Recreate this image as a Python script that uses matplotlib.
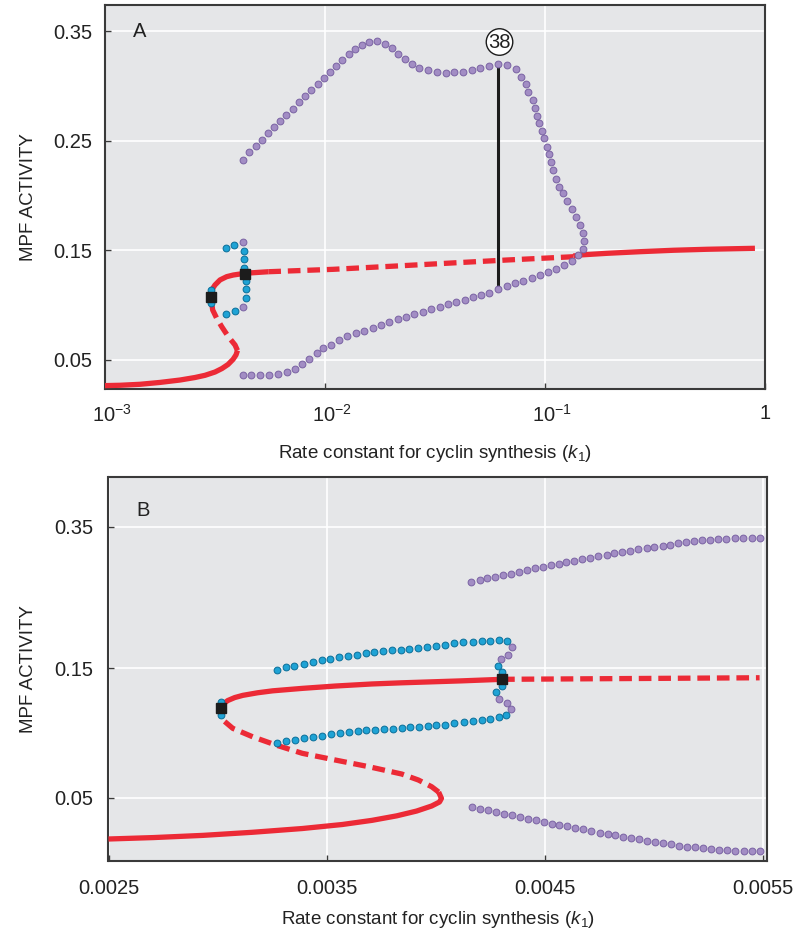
import numpy as np
import matplotlib.pyplot as plt
import matplotlib.transforms as mtransforms
from matplotlib.ticker import NullLocator

plt.rcParams['font.family'] = ['Liberation Sans', 'DejaVu Sans']
plt.rcParams['mathtext.fontset'] = 'custom'
plt.rcParams['mathtext.rm'] = 'Liberation Sans'
plt.rcParams['mathtext.it'] = 'Liberation Sans:italic'

# ---------------- panel A data (log k1) ----------------
a_red_low_k = [1.0e-3, 1.170e-3, 1.443e-3, 1.778e-3, 2.193e-3, 2.566e-3, 2.848e-3, 3.162e-3, 3.402e-3,
               3.624e-3, 3.818e-3, 3.939e-3, 4.001e-3]
a_red_low_y = [0.0266, 0.0269, 0.0278, 0.0295, 0.0317, 0.0340, 0.0360, 0.0390, 0.0422,
               0.0459, 0.0505, 0.0546, 0.0587]
a_red_mid_k = [4.001e-3, 3.90e-3, 3.635e-3, 3.393e-3, 3.219e-3, 3.086e-3, 3.03e-3]
a_red_mid_y = [0.0587, 0.0637, 0.0713, 0.0804, 0.0881, 0.0957, 0.1078]
a_red_up_k = [3.03e-3, 3.055e-3, 3.162e-3, 3.333e-3, 3.574e-3, 3.830e-3, 4.33e-3, 5.525e-3]
a_red_up_y = [0.1078, 0.1139, 0.1185, 0.1231, 0.1261, 0.1276, 0.1292, 0.1306]
a_red_hi_k = [5.525e-3, 1.09e-2, 2.19e-2, 4.11e-2, 6.70e-2, 0.1345]
a_red_hi_y = [0.1306, 0.1328, 0.1360, 0.1390, 0.1413, 0.1443]
a_red_top_k = [0.1345, 0.1442, 0.1908, 0.2703, 0.383, 0.543, 0.90]
a_red_top_y = [0.1449, 0.1459, 0.1474, 0.1489, 0.1502, 0.1511, 0.1520]

a_purple_k = [4.25e-3, 4.53e-3, 4.84e-3, 5.16e-3, 5.51e-3, 5.86e-3, 6.26e-3, 6.67e-3, 7.13e-3, 7.59e-3,
              8.09e-3, 8.64e-3, 9.26e-3, 9.90e-3, 1.057e-2, 1.126e-2, 1.198e-2, 1.282e-2, 1.369e-2, 1.473e-2,
              1.590e-2, 1.718e-2, 1.868e-2, 2.010e-2, 2.154e-2, 2.310e-2, 2.478e-2, 2.683e-2, 2.930e-2, 3.219e-2,
              3.548e-2, 3.870e-2, 4.250e-2, 4.640e-2, 5.060e-2, 5.560e-2, 6.110e-2, 6.720e-2, 7.360e-2, 7.780e-2,
              8.170e-2, 8.400e-2, 8.790e-2, 8.980e-2, 9.170e-2, 9.420e-2, 9.690e-2, 9.930e-2, 0.1021, 0.1039,
              0.1065, 0.1091, 0.1122, 0.1154, 0.1207, 0.1263, 0.1327, 0.1383, 0.1447, 0.1484,
              0.1504, 0.1484, 0.1413,
              0.1323, 0.1220, 0.1126, 0.1035, 9.52e-2, 8.70e-2, 7.97e-2, 7.33e-2, 6.70e-2, 6.13e-2,
              5.58e-2, 5.12e-2, 4.71e-2, 4.32e-2, 3.95e-2, 3.64e-2, 3.315e-2, 3.033e-2, 2.78e-2, 2.547e-2,
              2.334e-2, 2.14e-2, 1.96e-2, 1.797e-2, 1.648e-2, 1.509e-2, 1.383e-2, 1.263e-2, 1.158e-2, 1.065e-2,
              9.82e-3, 9.17e-3, 8.49e-3, 7.88e-3, 7.31e-3, 6.70e-3, 6.13e-3, 5.58e-3, 5.06e-3, 4.62e-3, 4.23e-3]
a_purple_y = [0.233, 0.240, 0.245, 0.251, 0.257, 0.2625, 0.2685, 0.274, 0.2795, 0.2853,
              0.2908, 0.2963, 0.302, 0.3075, 0.313, 0.3185, 0.324, 0.3292, 0.3337, 0.3377,
              0.3407, 0.3413, 0.3386, 0.3347, 0.3295, 0.3249, 0.3206, 0.3167, 0.3146, 0.3127,
              0.3124, 0.313, 0.3133, 0.3148, 0.3169, 0.3185, 0.3203, 0.3194, 0.3155, 0.3087,
              0.302, 0.295, 0.2874, 0.2804, 0.2731, 0.2662, 0.2594, 0.2525, 0.2448, 0.2381,
              0.2305, 0.2232, 0.2156, 0.2083, 0.2022, 0.1952, 0.1879, 0.1809, 0.1736, 0.1663,
              0.159, 0.1516, 0.1456,
              0.1404, 0.137, 0.1331, 0.1304, 0.1276, 0.1249, 0.1221, 0.12, 0.1176, 0.1148,
              0.1115, 0.1094, 0.1075, 0.1048, 0.1027, 0.1007, 0.0987, 0.0963, 0.0938, 0.0917,
              0.0893, 0.0872, 0.0844, 0.082, 0.0795, 0.0768, 0.0744, 0.0716, 0.068, 0.064,
              0.0607, 0.0561, 0.0509, 0.0461, 0.0418, 0.039, 0.0372, 0.0363, 0.036, 0.036, 0.036]
a_purple_join_k = [4.24e-3, 4.24e-3]
a_purple_join_y = [0.1578, 0.0987]
a_blue_k = [3.55e-3, 3.86e-3, 4.30e-3, 4.30e-3, 4.30e-3, 4.36e-3, 4.36e-3, 4.36e-3, 3.90e-3, 3.55e-3, 3.03e-3, 3.03e-3]
a_blue_y = [0.1523, 0.1550, 0.1498, 0.1420, 0.1343, 0.1221, 0.1146, 0.1063, 0.0947, 0.0920, 0.1139, 0.1023]
a_square_k = [3.03e-3, 4.33e-3]
a_square_y = [0.1078, 0.1285]
a_period_k = 6.12e-2           # period 38 marker
a_period_y = [0.1148, 0.3203]
a_period_label = '38'

a_xticks = [1e-3, 1e-2, 1e-1, 1]
a_xticklabels = ['$10^{-3}$', '$10^{-2}$', '$10^{-1}$', '1']
a_yticks = [0.05, 0.15, 0.25, 0.35]

# ---------------- panel B data (linear k1) ----------------
b_red_low_k = [0.0025, 0.002706, 0.002933, 0.003161, 0.003389, 0.003572, 0.003708, 0.003822, 0.003913,
               0.003982, 0.004018, 0.004027, 0.004014]
b_red_low_y = [0.0181, 0.0192, 0.0209, 0.0233, 0.0262, 0.0293, 0.0325, 0.0360, 0.0397,
               0.0436, 0.0467, 0.0495, 0.0544]
b_red_mid_k = [0.004014, 0.003982, 0.003921, 0.003845, 0.003693, 0.003541, 0.003389, 0.003268, 0.003161, 0.003070, 0.003025, 0.003017, 0.003014]
b_red_mid_y = [0.0544, 0.0585, 0.0637, 0.0683, 0.0740, 0.0791, 0.0843, 0.0907, 0.0971, 0.1036, 0.1100, 0.1152, 0.1193]
b_red_up_k = [0.003014, 0.003025, 0.003047, 0.003079, 0.003116, 0.003184, 0.003253, 0.003389, 0.003540,
              0.003708, 0.003845, 0.004119, 0.004305]
b_red_up_y = [0.1193, 0.1224, 0.1251, 0.1274, 0.1291, 0.1311, 0.1326, 0.1345, 0.1363,
              0.1379, 0.1388, 0.1403, 0.1415]
b_red_hi_k = [0.004305, 0.005486]
b_red_hi_y = [0.1415, 0.1427]

b_blue_up_k = [0.003271, 0.003312, 0.003353, 0.003395, 0.003436, 0.003477, 0.003518, 0.003559, 0.003599, 0.003640,
               0.003680, 0.003719, 0.003758, 0.003799, 0.003840, 0.003880, 0.003921, 0.003960, 0.004001, 0.004042,
               0.004085, 0.004128, 0.004170, 0.004211, 0.004251, 0.004289, 0.004327]
b_blue_up_y = [0.1487, 0.1514, 0.1537, 0.1565, 0.1589, 0.1613, 0.1636, 0.1655, 0.1674, 0.1692,
               0.1712, 0.1726, 0.1740, 0.1754, 0.1763, 0.1777, 0.1787, 0.1805, 0.1819, 0.1833,
               0.1853, 0.1867, 0.1871, 0.1881, 0.1890, 0.1895, 0.1881]
b_blue_hopf_k = [0.004286, 0.004305, 0.004305, 0.004279]
b_blue_hopf_y = [0.1537, 0.1475, 0.1363, 0.1315]
b_blue_low_k = [0.004325, 0.004289, 0.004249, 0.004211, 0.004172, 0.004129, 0.004085, 0.004042, 0.004003, 0.003964,
                0.003924, 0.003885, 0.003845, 0.003804, 0.003764, 0.003723, 0.003682, 0.003643, 0.003602, 0.003562,
                0.003521, 0.003480, 0.003439, 0.003397, 0.003354, 0.003313, 0.003272]
b_blue_low_y = [0.1141, 0.1124, 0.1108, 0.1100, 0.1090, 0.1083, 0.1075, 0.1064, 0.1060, 0.1054,
                0.1049, 0.1044, 0.1041, 0.1033, 0.1029, 0.1023, 0.1021, 0.1015, 0.1008, 0.1002,
                0.0992, 0.0979, 0.0971, 0.0959, 0.0948, 0.0936, 0.0920]
b_blue_fold_k = [0.003014, 0.003017]
b_blue_fold_y = [0.1240, 0.1141]
b_purple_fold_k = [0.004350, 0.004333, 0.004299, 0.004293, 0.004327, 0.004348]
b_purple_fold_y = [0.1797, 0.1692, 0.1631, 0.1263, 0.1232, 0.1188]

b_purple_up_k = [0.004164, 0.004202, 0.004238, 0.004274, 0.004310, 0.004346, 0.004383, 0.004419, 0.004456, 0.004491,
                 0.004529, 0.004564, 0.004600, 0.004637, 0.004673, 0.004710, 0.004747, 0.004784, 0.004820, 0.004857,
                 0.004893, 0.004930, 0.004968, 0.005004, 0.005041, 0.005077, 0.005114, 0.005150, 0.005186, 0.005223,
                 0.005259, 0.005296, 0.005334, 0.005372, 0.005410, 0.005449, 0.005487]
b_purple_up_y = [0.2723, 0.2747, 0.2771, 0.2794, 0.2814, 0.2836, 0.2864, 0.2888, 0.2912, 0.2935,
                 0.2955, 0.2973, 0.2997, 0.3020, 0.3040, 0.3062, 0.3086, 0.3105, 0.3124, 0.3143,
                 0.3161, 0.3181, 0.3199, 0.3218, 0.3232, 0.3246, 0.3270, 0.3284, 0.3294, 0.3308,
                 0.3316, 0.3326, 0.3331, 0.3340, 0.3345, 0.3345, 0.3345]
b_purple_low_k = [0.004169, 0.004205, 0.004242, 0.004278, 0.004315, 0.004350, 0.004386, 0.004423, 0.004459, 0.004495,
                  0.004532, 0.004568, 0.004605, 0.004641, 0.004678, 0.004714, 0.004752, 0.004789, 0.004825, 0.004861,
                  0.004898, 0.004934, 0.004971, 0.005007, 0.005044, 0.005080, 0.005118, 0.005155, 0.005191, 0.005227,
                  0.005264, 0.005300, 0.005337, 0.005375, 0.005413, 0.005451, 0.005489]
b_purple_low_y = [0.0428, 0.0415, 0.0403, 0.0389, 0.0376, 0.0364, 0.0351, 0.0338, 0.0325, 0.0312,
                  0.0299, 0.0289, 0.0279, 0.0266, 0.0256, 0.0243, 0.0230, 0.0219, 0.0209, 0.0199,
                  0.0189, 0.0179, 0.0168, 0.0158, 0.0148, 0.0140, 0.0129, 0.0121, 0.0117, 0.0109,
                  0.0104, 0.0098, 0.0094, 0.0090, 0.0086, 0.0086, 0.0086]
b_square_k = [0.003014, 0.004305]
b_square_y = [0.1193, 0.1415]

b_xticks = [0.0025, 0.0035, 0.0045, 0.0055]
b_xticklabels = ['0.0025', '0.0035', '0.0045', '0.0055']
b_yticks = [0.05, 0.15, 0.35]

# the lower panel's activity axis is drawn unevenly in the source figure
b_scale_vals = [-1.0, 0.05, 0.15, 0.35, 2.0]
b_scale_pos = [-1.05 * 1294, 0.0, 129.4, 271.0, 271.0 + 1.65 * 708]

RED = '#ec2a36'
BG = '#e5e6e8'
TXT = '#222222'
FS_TICK = 14.5
FS_LAB = 13.5
xlabel = 'Rate constant for cyclin synthesis ($k_1$)'

dot_purple = dict(ls='none', marker='o', ms=4.9, mfc='#a28dc4', mec='#7a63a3', mew=0.7, zorder=5)
dot_blue = dict(ls='none', marker='o', ms=4.9, mfc='#1fa3d5', mec='#0b6f99', mew=0.7, zorder=5)
square = dict(ls='none', marker='s', ms=7, color='#1c1c1c', zorder=7)
solid = dict(color=RED, lw=3.8, solid_capstyle='butt', solid_joinstyle='round', zorder=3)
dashed = dict(color=RED, lw=3.8, dashes=(2.4, 1.3), dash_capstyle='butt', zorder=3)


def style_axes(ax):
    ax.set_facecolor(BG)
    ax.grid(True, color='white', lw=1.2)
    ax.set_axisbelow(True)
    for sp in ax.spines.values():
        sp.set_color('#3a3a3a')
        sp.set_linewidth(1.5)
    ax.tick_params(direction='in', length=4, width=1, colors='#3a3a3a',
                   labelcolor=TXT, labelsize=FS_TICK)
    ax.set_ylabel('MPF ACTIVITY', fontsize=FS_LAB, color=TXT)
    ax.set_xlabel(xlabel, fontsize=FS_LAB, color=TXT)


fig = plt.figure(figsize=(8.1, 9.38), dpi=100)

# ---------------- panel A ----------------
ax1 = fig.add_axes([105 / 810, 1 - 389 / 938, 660 / 810, 384 / 938])
style_axes(ax1)
ax1.set_xscale('log')
ax1.set_xlim(1e-3, 1)
ax1.set_ylim(0.0235, 0.3742)
ax1.set_xticks(a_xticks)
ax1.set_xticklabels(a_xticklabels)
ax1.xaxis.set_minor_locator(NullLocator())
ax1.set_yticks(a_yticks)
ax1.set_yticklabels(['%.2f' % v for v in a_yticks])
ax1.tick_params(axis='x', pad=11)
ax1.tick_params(axis='y', pad=9)
ax1.xaxis.labelpad = 12
ax1.yaxis.labelpad = 12
shift = mtransforms.ScaledTranslation(7 / 100, 0, fig.dpi_scale_trans)
for lab in ax1.get_xticklabels()[:3]:
    lab.set_transform(lab.get_transform() + shift)

ax1.plot(a_red_low_k, a_red_low_y, **solid)
ax1.plot(a_red_mid_k, a_red_mid_y, **dashed)
ax1.plot(a_red_up_k, a_red_up_y, **solid)
ax1.plot(a_red_hi_k, a_red_hi_y, **dashed)
ax1.plot(a_red_top_k, a_red_top_y, **solid)
ax1.plot([a_period_k, a_period_k], a_period_y, color='#1c1c1c', lw=2.2, zorder=4)
ax1.plot(a_purple_k, a_purple_y, **dot_purple)
ax1.plot(a_purple_join_k, a_purple_join_y, **dot_purple)
ax1.plot(a_blue_k, a_blue_y, **dot_blue)
ax1.plot(a_square_k, a_square_y, **square)
ax1.annotate(a_period_label, (a_period_k * 1.015, 0.3404), ha='center', va='center',
             fontsize=FS_TICK, color=TXT, zorder=8,
             bbox=dict(boxstyle='circle,pad=0.1', fc='white', ec='#1c1c1c', lw=1.0))
ax1.text(0.042, 0.93, 'A', transform=ax1.transAxes, fontsize=FS_TICK, color=TXT,
         ha='left', va='center')

# ---------------- panel B ----------------
ax2 = fig.add_axes([108.5 / 810, 1 - 861 / 938, 658.5 / 810, 384 / 938])
style_axes(ax2)
ax2.set_yscale('function', functions=(lambda y: np.interp(y, b_scale_vals, b_scale_pos),
                                      lambda p: np.interp(p, b_scale_pos, b_scale_vals)))
ax2.set_xlim(0.0025, 0.00552)
ax2.set_ylim(0.0011, 0.4202)
ax2.set_xticks(b_xticks)
ax2.set_xticklabels(b_xticklabels)
ax2.set_yticks(b_yticks)
ax2.set_yticklabels(['%.2f' % v for v in b_yticks])
ax2.yaxis.set_minor_locator(NullLocator())
ax2.xaxis.set_minor_locator(NullLocator())
ax2.tick_params(axis='x', pad=13)
ax2.tick_params(axis='y', pad=11)
ax2.xaxis.labelpad = 8
ax2.yaxis.labelpad = 12

ax2.plot(b_red_low_k, b_red_low_y, **solid)
ax2.plot(b_red_mid_k, b_red_mid_y, **dashed)
ax2.plot(b_red_up_k, b_red_up_y, **solid)
ax2.plot(b_red_hi_k, b_red_hi_y, **dashed)
ax2.plot(b_purple_up_k, b_purple_up_y, **dot_purple)
ax2.plot(b_purple_low_k, b_purple_low_y, **dot_purple)
ax2.plot(b_purple_fold_k, b_purple_fold_y, **dot_purple)
ax2.plot(b_blue_up_k, b_blue_up_y, **dot_blue)
ax2.plot(b_blue_hopf_k, b_blue_hopf_y, **dot_blue)
ax2.plot(b_blue_low_k, b_blue_low_y, **dot_blue)
ax2.plot(b_blue_fold_k, b_blue_fold_y, **dot_blue)
ax2.plot(b_square_k, b_square_y, **square)
ax2.text(0.042, 0.914, 'B', transform=ax2.transAxes, fontsize=FS_TICK, color=TXT,
         ha='left', va='center')

fig.savefig('out.png', dpi=100)
